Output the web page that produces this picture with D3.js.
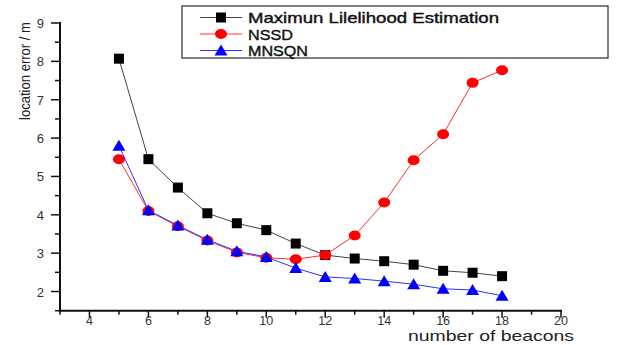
<!DOCTYPE html>
<html>
<head>
<meta charset="utf-8">
<script src="https://cdn.jsdelivr.net/npm/d3@7"></script>
<style>
body { margin: 0; background: #fff; }
svg text { font-family: "Liberation Sans", Arial, sans-serif; }
</style>
</head>
<body>
<div id="chart"></div>
<script>
// beacon counts
var beacons = [5, 6, 7, 8, 9, 10, 11, 12, 13, 14, 15, 16, 17, 18];
var mle = [8.07, 5.45, 4.71, 4.04, 3.78, 3.60, 3.25, 2.95, 2.86, 2.79, 2.70, 2.54, 2.49, 2.40];
var nssd = [5.45, 4.10, 3.70, 3.33, 3.02, 2.88, 2.84, 2.95, 3.46, 4.32, 5.42, 6.10, 7.44, 7.77];
var mnsqn = [5.80, 4.12, 3.72, 3.35, 3.05, 2.90, 2.61, 2.38, 2.34, 2.27, 2.19, 2.07, 2.04, 1.89];
var seriesNames = ["Maximun Lilelihood Estimation", "NSSD", "MNSQN"];
var xTicks = [4, 6, 8, 10, 12, 14, 16, 18, 20];
var yTicks = [2, 3, 4, 5, 6, 7, 8, 9];

var W = 628, H = 345;
var x = d3.scaleLinear().domain([3, 20]).range([60, 561]);
var y = d3.scaleLinear().domain([1.5, 9]).range([310.7, 23]);

var svg = d3.select("#chart").append("svg")
    .attr("width", W).attr("height", H);

// minor ticks (every 1 on x, every 0.5 on y)
var xMinor = d3.range(3, 21, 1);
var yMinor = d3.range(1.5, 9.01, 0.5);

var gx = svg.append("g");
gx.selectAll("line.minor").data(xMinor).enter().append("line")
    .attr("x1", d => x(d)).attr("x2", d => x(d))
    .attr("y1", y(1.5)).attr("y2", d => y(1.5) + (d % 2 === 0 ? 7 : 4))
    .attr("stroke", "#111").attr("stroke-width", 1.5);
gx.append("line")
    .attr("x1", x(3) - 1).attr("x2", x(20) + 1)
    .attr("y1", y(1.5)).attr("y2", y(1.5))
    .attr("stroke", "#111").attr("stroke-width", 2);
gx.selectAll("text").data(xTicks).enter().append("text")
    .attr("x", d => x(d)).attr("y", 324.5)
    .attr("text-anchor", "middle")
    .style("font-size", "12.5px").attr("fill", "#333")
    .text(d => d);

var gy = svg.append("g");
gy.selectAll("line").data(yMinor).enter().append("line")
    .attr("x1", d => x(3) - (d % 1 === 0 ? 9 : 5)).attr("x2", x(3))
    .attr("y1", d => y(d)).attr("y2", d => y(d))
    .attr("stroke", "#111").attr("stroke-width", 1.5);
gy.append("line")
    .attr("x1", x(3)).attr("x2", x(3))
    .attr("y1", y(9) - 1).attr("y2", y(1.5) + 1)
    .attr("stroke", "#111").attr("stroke-width", 2);
gy.selectAll("text").data(yTicks).enter().append("text")
    .attr("x", 44).attr("y", d => y(d) + 5)
    .attr("text-anchor", "end")
    .style("font-size", "13px").attr("fill", "#333")
    .text(d => d);

// axis titles
svg.append("text")
    .attr("transform", "translate(30,71) rotate(-90)")
    .attr("text-anchor", "middle")
    .style("font-size", "14px")
    .attr("textLength", 98).attr("lengthAdjust", "spacingAndGlyphs")
    .attr("fill", "#222")
    .text("location error / m");
svg.append("text")
    .attr("x", 491).attr("y", 341)
    .attr("text-anchor", "middle")
    .style("font-size", "15px").attr("fill", "#222")
    .attr("textLength", 166).attr("lengthAdjust", "spacingAndGlyphs")
    .text("number of beacons");

var line = d3.line().x(d => x(d[0])).y(d => y(d[1]));
var colors = ["#000000", "#ff0000", "#0000ff"];
var lineColors = ["#444444", "#ff3030", "#3030ff"];
var allSeries = [mle, nssd, mnsqn];

function marker(g, kind, cx, cy, color) {
    if (kind === 0) {
        g.append("rect").attr("x", cx - 5).attr("y", cy - 5)
            .attr("width", 10).attr("height", 10).attr("fill", color);
    } else if (kind === 1) {
        g.append("ellipse").attr("cx", cx).attr("cy", cy)
            .attr("rx", 6).attr("ry", 5).attr("fill", color);
    } else {
        g.append("path")
            .attr("d", "M" + cx + "," + (cy - 6) + "L" + (cx + 6.5) + "," + (cy + 5) + "L" + (cx - 6.5) + "," + (cy + 5) + "Z")
            .attr("fill", color);
    }
}

allSeries.forEach(function(vals, k) {
    var pts = beacons.map((b, i) => [b, vals[i]]);
    var g = svg.append("g");
    g.append("path").datum(pts)
        .attr("d", line).attr("fill", "none")
        .attr("stroke", lineColors[k]).attr("stroke-width", 1);
    pts.forEach(function(p) { marker(g, k, x(p[0]), y(p[1]), colors[k]); });
});

// legend
var lg = svg.append("g");
lg.append("rect").attr("x", 182).attr("y", 6).attr("width", 426).attr("height", 52)
    .attr("fill", "#fff").attr("stroke", "#555").attr("stroke-width", 1.5);
var legendY = [17.5, 34, 50.5];
var legendWidths = [251, 45, 60];
seriesNames.forEach(function(name, k) {
    lg.append("line").attr("x1", 200).attr("x2", 242)
        .attr("y1", legendY[k]).attr("y2", legendY[k])
        .attr("stroke", lineColors[k]).attr("stroke-width", 1);
    marker(lg, k, 221, legendY[k], colors[k]);
    lg.append("text").attr("x", 248).attr("y", legendY[k] + 5.5)
        .style("font-size", "15px")
        .attr("fill", "#111").attr("stroke", "#111").attr("stroke-width", 0.4)
        .attr("textLength", legendWidths[k]).attr("lengthAdjust", "spacingAndGlyphs")
        .text(name);
});
</script>
</body>
</html>
